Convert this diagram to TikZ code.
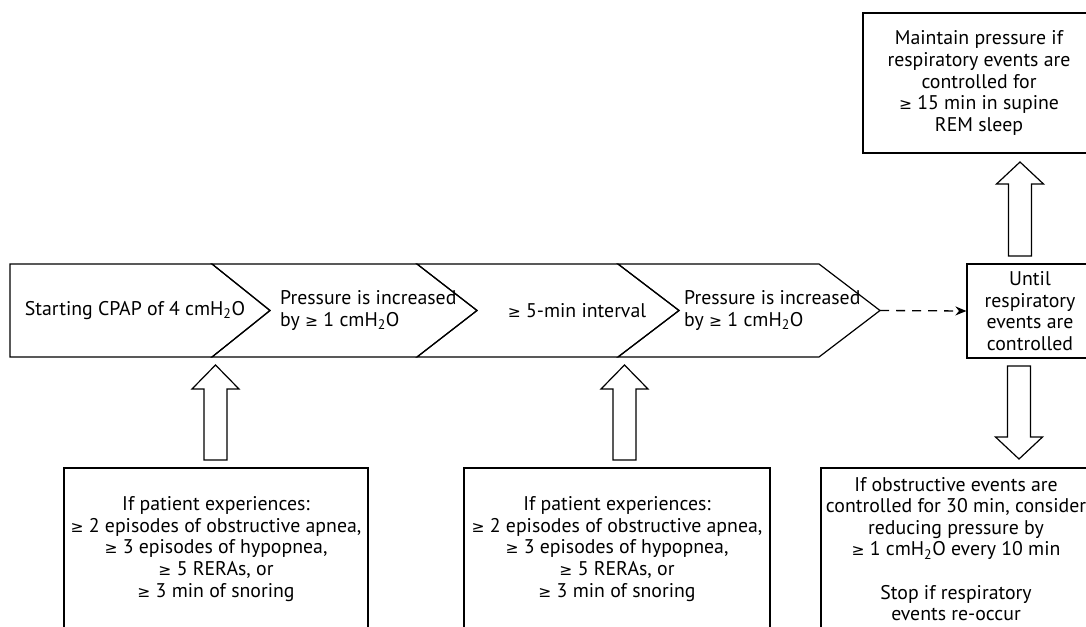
\documentclass[tikz,border=0pt]{standalone}
\usepackage{fontspec}
\setmainfont{PT Sans}
\newfontfamily\symfnt{DejaVu Sans}
\newcommand{\gq}{{\symfnt\fontsize{15.5}{15.5}\selectfont ≥}}
\usetikzlibrary{arrows.meta}
\newcommand{\blockarr}[4]{%
  \draw[shapeline] (#1-11.5,#2) -- (#1-11.5,#3) -- (#1-23.5,#3) -- (#1,#4)
    -- (#1+23.5,#3) -- (#1+11.5,#3) -- (#1+11.5,#2) -- cycle;}
\begin{document}
\begin{tikzpicture}[x=1pt,y=-1pt,
  shapeline/.style={draw=black, line width=1.2pt, line join=miter},
  txt/.style={font=\fontsize{19.8}{21.6}\selectfont, align=center, inner sep=0pt},
  box/.style={shapeline, rectangle, font=\fontsize{19.8}{21.6}\selectfont, align=center, inner sep=0pt},
  conn/.style={line width=1.3pt, dash pattern=on 9pt off 7pt, -{Stealth[length=11pt,width=9pt]}}]
\clip (0,0) rectangle (1086,626);
\fill[white] (0,0) rectangle (1086,626);

% chevrons
\draw[shapeline] (10,264) -- (212,264) -- (270,310.5) -- (212,357) -- (10,357) -- cycle;
\draw[shapeline] (212,264) -- (417,264) -- (477,310.5) -- (417,357) -- (212,357) -- (270,310.5) -- cycle;
\draw[shapeline] (417,264) -- (618,264) -- (679,310.5) -- (618,357) -- (417,357) -- (477,310.5) -- cycle;
\draw[shapeline] (618,264) -- (819,264) -- (880,310.5) -- (819,357) -- (618,357) -- (679,310.5) -- cycle;
\coordinate (c4tip) at (880,310.5);

\node[txt] (t1) at (135,310.5) {Starting CPAP of 4 cmH\textsubscript{2}O};
\node[txt, anchor=west, align=left] (t2) at (280,310.5) {Pressure is increased\\by \gq{} 1 cmH\textsubscript{2}O};
\node[txt] (t3) at (577,310.5) {\gq{} 5-min interval};
\node[txt, anchor=west, align=left] (t4) at (684,310.5) {Pressure is increased\\by \gq{} 1 cmH\textsubscript{2}O};

% boxes
\node[box, minimum width=232pt, minimum height=140pt] (top) at (979,83)
  {Maintain pressure if\\respiratory events are\\controlled for\\\gq{} 15 min in supine\\REM sleep};
\node[box, minimum width=126pt, minimum height=94pt] (until) at (1030,311)
  {Until\\respiratory\\events are\\controlled};
\node[box, minimum width=304pt, minimum height=162pt] (b1) at (216,549)
  {If patient experiences:\\\gq{} 2 episodes of obstructive apnea,\\\gq{} 3 episodes of hypopnea,\\\gq{} 5 RERAs, or\\\gq{} 3 min of snoring};
\node[box, minimum width=306pt, minimum height=162pt] (b2) at (617,549)
  {If patient experiences:\\\gq{} 2 episodes of obstructive apnea,\\\gq{} 3 episodes of hypopnea,\\\gq{} 5 RERAs, or\\\gq{} 3 min of snoring};
\node[box, minimum width=270pt, minimum height=162pt] (b3) at (956,549)
  {If obstructive events are\\controlled for 30 min, consider\\reducing pressure by\\\gq{} 1 cmH\textsubscript{2}O every 10 min\\[21.6pt]Stop if respiratory\\events re-occur};

% connectors
\draw[conn] (c4tip) -- (until.west);
\blockarr{215.5}{460}{389}{365}
\blockarr{624.5}{460}{389}{365}
\blockarr{1020}{256}{184}{162}
\blockarr{1019}{366}{437}{459}
\end{tikzpicture}
\end{document}
